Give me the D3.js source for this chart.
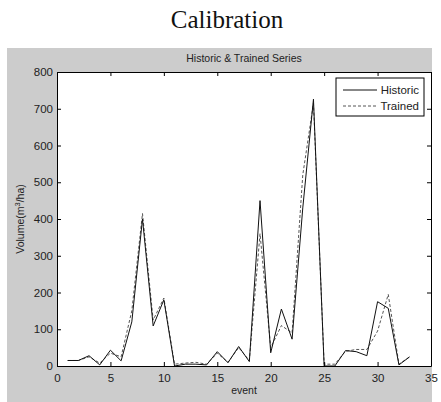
<!DOCTYPE html>
<html><head><meta charset="utf-8">
<script src="https://cdn.jsdelivr.net/npm/d3@7"></script>
<style>body{margin:0;background:#fff}svg{display:block}</style>
</head><body>
<script>
const events = d3.range(1, 34);
const historic = [15,15,28,3,43,14,120,400,109,180,0,5,5,3,39,9,53,12,450,36,155,73,430,726,0,0,42,39,28,175,157,3,25];
const trained  = [15,15,25,8,35,25,150,415,125,185,5,8,10,5,35,10,50,15,360,50,110,90,520,715,5,5,40,45,45,95,195,5,25];
const xTicks = [0,5,10,15,20,25,30,35];
const yTicks = [0,100,200,300,400,500,600,700,800];

const W = 441, H = 402;
const svg = d3.select("body").append("svg").attr("width", W).attr("height", H);
svg.append("rect").attr("x", 7).attr("y", 48).attr("width", 425).attr("height", 354).attr("fill", "#cccccc");
svg.append("text").attr("x", 227).attr("y", 28).attr("text-anchor", "middle")
  .attr("font-family", "'Liberation Serif', serif").attr("font-size", 25).attr("fill", "#111").text("Calibration");

const L = 57, R = 431, T = 72, B = 366;
const x = d3.scaleLinear().domain([0, 35]).range([L, R]);
const y = d3.scaleLinear().domain([0, 800]).range([B, T]);

svg.append("rect").attr("x", L).attr("y", T).attr("width", R - L).attr("height", B - T).attr("fill", "#fff");

const font = "'Liberation Sans', Arial, sans-serif";
svg.append("text").attr("x", (L + R) / 2).attr("y", 62).attr("text-anchor", "middle")
  .attr("font-family", font).attr("font-size", 10.5).attr("fill", "#222").text("Historic & Trained Series");

const line = d3.line().x((d, i) => x(events[i])).y(d => y(d));
svg.append("path").datum(trained).attr("d", line).attr("fill", "none")
  .attr("stroke", "#555").attr("stroke-width", 1).attr("stroke-dasharray", "3,2");
svg.append("path").datum(historic).attr("d", line).attr("fill", "none")
  .attr("stroke", "#111").attr("stroke-width", 1);

// axes
const tk = 4;
const gx = svg.append("g").attr("transform", `translate(0,${B})`)
  .call(d3.axisBottom(x).tickValues(xTicks).tickSizeInner(-tk).tickSizeOuter(0).tickPadding(8));
const gxt = svg.append("g").attr("transform", `translate(0,${T})`)
  .call(d3.axisTop(x).tickValues(xTicks).tickSizeInner(-tk).tickSizeOuter(0).tickFormat(""));
const gy = svg.append("g").attr("transform", `translate(${L},0)`)
  .call(d3.axisLeft(y).tickValues(yTicks).tickSizeInner(-tk).tickSizeOuter(0).tickPadding(6));
const gyr = svg.append("g").attr("transform", `translate(${R},0)`)
  .call(d3.axisRight(y).tickValues(yTicks).tickSizeInner(-tk).tickSizeOuter(0).tickFormat(""));
[gx, gxt, gy, gyr].forEach(g => {
  g.selectAll(".domain").attr("stroke", "#000");
  g.selectAll("line").attr("stroke", "#000");
  g.selectAll("text").attr("font-family", font).attr("font-size", 11.5).attr("fill", "#222");
});
gy.selectAll("text").attr("dx", "2");

svg.append("text").attr("x", (L + R) / 2).attr("y", 394).attr("text-anchor", "middle")
  .attr("font-family", font).attr("font-size", 10.5).attr("fill", "#222").text("event");
const yl = svg.append("text").attr("transform", `translate(24,${(T + B) / 2}) rotate(-90)`)
  .attr("text-anchor", "middle").attr("font-family", font).attr("font-size", 10.5).attr("fill", "#222");
yl.append("tspan").text("Volume(m");
yl.append("tspan").attr("font-size", 7.5).attr("dy", -4).text("3");
yl.append("tspan").attr("dy", 4).text("/ha)");

// legend
const lg = svg.append("g");
lg.append("rect").attr("x", 336).attr("y", 78).attr("width", 88).attr("height", 38)
  .attr("fill", "#fff").attr("stroke", "#000");
const items = [["Historic", "#111", null], ["Trained", "#555", "3,2"]];
items.forEach((it, i) => {
  const yy = 90 + i * 16;
  lg.append("line").attr("x1", 343).attr("x2", 377).attr("y1", yy).attr("y2", yy)
    .attr("stroke", it[1]).attr("stroke-dasharray", it[2]);
  lg.append("text").attr("x", 419).attr("y", yy + 4).attr("text-anchor", "end")
    .attr("font-family", font).attr("font-size", 11.5).attr("fill", "#222").text(it[0]);
});
</script>
</body></html>
